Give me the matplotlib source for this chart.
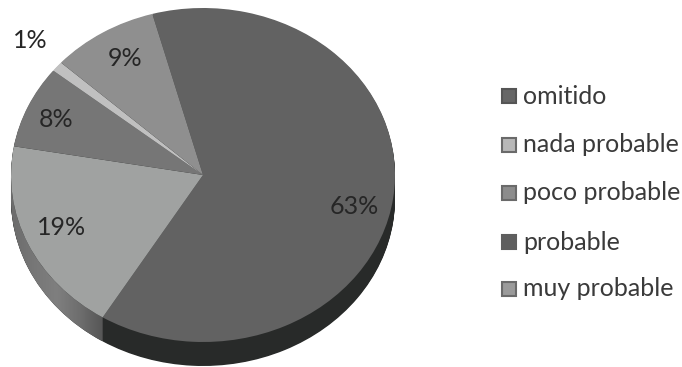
# -*- coding: utf-8 -*-
import matplotlib
matplotlib.use("Agg")
from matplotlib import pyplot as plt
from matplotlib.colors import LinearSegmentedColormap
from matplotlib.patches import Rectangle, Polygon
import numpy as np

# datos, en el orden de la leyenda
categorias = ["omitido", "nada probable", "poco probable", "probable", "muy probable"]
valores = [63, 1, 9, 8, 19]
colores = ["#626262", "#c0c0c0", "#8f8f8f", "#767676", "#a0a2a1"]
colores_leyenda = ["#666666", "#b8b8b8", "#8c8c8c", "#5e5e5e", "#9a9a9a"]
bordes_leyenda = ["#555555", "#6a6a6a", "#6a6a6a", "#5e5e5e", "#6a6a6a"]

# orden en que aparecen las porciones en sentido horario
orden = [0, 4, 3, 1, 2]
vals = [valores[i] for i in orden]
cols = [colores[i] for i in orden]
inicio = 105.3

W, H = 682, 367
plt.rcParams['font.family'] = ['Lato', 'DejaVu Sans']
fig = plt.figure(figsize=(W / 100, H / 100), dpi=100)

# ejes en pixeles de la imagen: centro de la torta en (203, 175), radios 192 x 167
ax = fig.add_axes([(203 - 192) / W, 1 - (175 + 167) / H, 2 * 192 / W, 2 * 167 / H])
ax.set_axis_off()

# espesor: tortas oscuras corridas hacia abajo
prof = 24 / 167
for d in np.linspace(prof, 0.005, 30):
    lados, _ = ax.pie(vals, startangle=inicio, counterclock=False, radius=1,
                      center=(0, -d), colors=["#282a29"] * len(vals))
    for w in lados:
        w.set_linewidth(0)
        w.set_clip_on(False)

# lado de "muy probable": degradado horizontal, recortado al borde de la torta
ang_fin = inicio - 360 * valores[0] / 100 + 360  # borde entre omitido y muy probable
tt = np.radians(np.linspace(ang_fin, 180, 60))
xb, yb = np.cos(tt), np.sin(tt)
lado = np.r_[np.c_[xb, yb], np.c_[xb[::-1], yb[::-1] - prof]]
grises = LinearSegmentedColormap.from_list("lado", ["#6c6c6c", "#777777", "#7f7f7f", "#6e6e6e", "#565656"])
im = ax.imshow(np.linspace(0, 1, 128).reshape(1, -1), cmap=grises, aspect='auto',
               extent=(xb.min(), xb.max(), yb.min() - prof, yb.max()), zorder=3)
recorte = Polygon(lado, closed=True, transform=ax.transData, fc='none', ec='none')
ax.add_patch(recorte)
im.set_clip_path(recorte)

tapas, _ = ax.pie(vals, startangle=inicio, counterclock=False, radius=1, colors=cols)
for w in tapas:
    w.set_linewidth(0)
    w.set_zorder(4)
    w.set_clip_on(False)
ax.set_aspect('auto')
ax.set_xlim(-1, 1)
ax.set_ylim(-1, 1)

# etiquetas de porcentaje (posiciones en pixeles)
etiq_pos = {0: (354, 207), 1: (30, 41), 2: (125, 59), 3: (56, 120), 4: (62, 228)}


def px(x, y):
    return x / W, 1 - y / H


for i, (x, y) in etiq_pos.items():
    fig.text(*px(x, y), "%d%%" % valores[i], ha='center', va='center',
             fontsize=18, color="#262626", zorder=10)

# leyenda
ys = [96, 145, 193, 242, 289]
for c, col, borde, y in zip(categorias, colores_leyenda, bordes_leyenda, ys):
    fig.add_artist(Rectangle(px(502, y + 7), 14 / W, 14 / H, transform=fig.transFigure,
                             facecolor=col, edgecolor=borde, lw=1.5))
    fig.text(*px(523, y), c, ha='left', va='center', fontsize=18, color="#3a3a3a")

fig.savefig("out.png", dpi=100)
